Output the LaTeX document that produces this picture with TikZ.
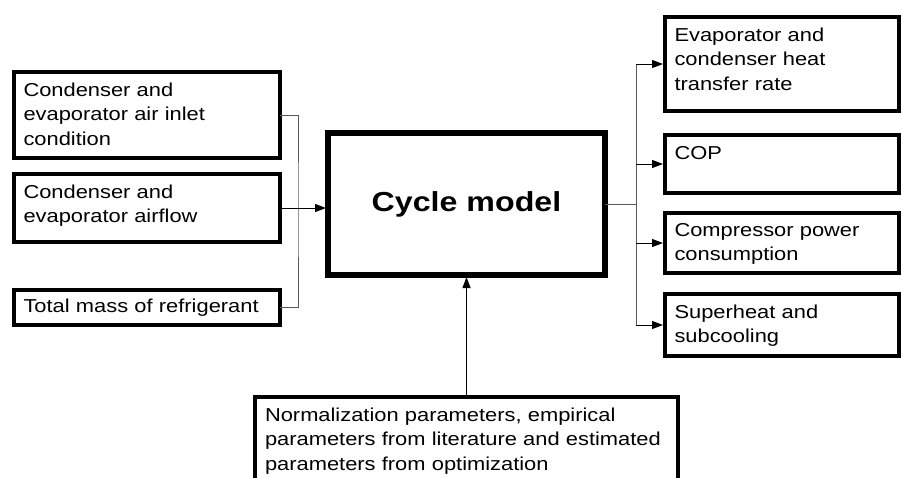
\documentclass[tikz,border=0pt]{standalone}
\usepackage{fontspec}
\setmainfont{Liberation Sans}[FakeStretch=1.17]
\usetikzlibrary{arrows.meta,positioning,calc}
\definecolor{CycLine}{HTML}{5A5A5A}

\begin{document}
\begin{tikzpicture}[x=1pt,y=-1pt,
    inbox/.style={draw,line width=4pt,outer sep=0pt,anchor=north west,align=left,inner xsep=9.5pt,inner ysep=0pt,text height=24pt,font=\fontsize{18.7}{24.5}\selectfont},
    model/.style={draw,line width=6pt,outer sep=0pt,anchor=north west,minimum width=277pt,minimum height=142pt,font=\fontsize{27.5}{32}\selectfont\bfseries},
    bus/.style={CycLine,line width=1pt},
    arr/.style={-{Triangle[length=11pt,width=8pt]},line width=1pt,black,shorten >=2pt}
  ]
    \useasboundingbox (0,0) rectangle (901,477);

    % inputs
    \node[inbox,text width=247pt,text depth=62pt] (inlet) at (14,72) {Condenser and\\evaporator air inlet\\condition};
    \node[inbox,text width=247pt,text depth=44pt] (airflow) at (14,174) {Condenser and\\evaporator airflow};
    \node[inbox,text width=247pt,text height=22pt,text depth=13pt] (mass) at (14,290) {Total mass of refrigerant};

    % model
    \node[model] (cycle) at (328,133) {Cycle model};

    % outputs
    \node[inbox,text width=215pt,text depth=70pt] (rate) at (665,17) {Evaporator and\\condenser heat\\transfer rate};
    \node[inbox,text width=215pt,text depth=34pt] (cop) at (665,135) {COP};
    \node[inbox,text width=215pt,text height=23pt,text depth=37pt] (power) at (665,213) {Compressor power\\consumption};
    \node[inbox,text width=215pt,text depth=38pt] (heat) at (665,294) {Superheat and\\subcooling};

    % parameters
    \node[inbox,inner xsep=10pt,text width=403pt,text depth=86pt] (param) at (255,397) {Normalization parameters, empirical\\parameters from literature and estimated\\parameters from optimization};

    % links
    \coordinate (lbus) at ($(airflow.east)+(18,0)$);
    \coordinate (rbus) at ($(cycle.east)+(31,0)$);
    \draw[bus] (inlet.east) -| (lbus) |- (mass.east);
    \draw[arr] (airflow.east) -- (airflow.east -| cycle.west);
    \draw[bus] (cycle.east) -- (rbus);
    \draw[bus] (rbus |- rate.west) -- (rbus |- heat.west);
    \foreach \b in {rate,cop,power,heat}
      \draw[arr] (rbus |- \b.west) -- (\b.west);
    \draw[arr] (param) -- (cycle);
\end{tikzpicture}
\end{document}
